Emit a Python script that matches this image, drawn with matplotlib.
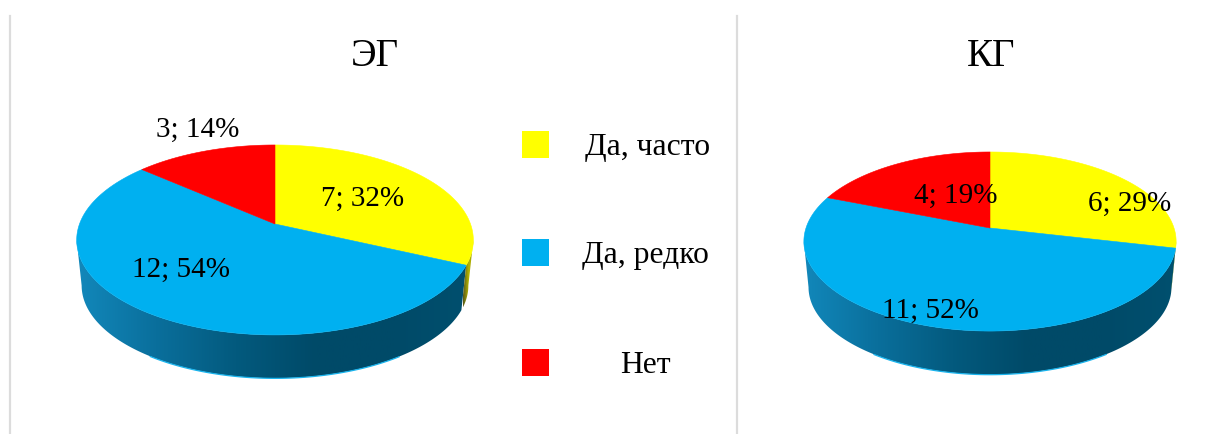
import matplotlib
matplotlib.use('Agg')
import matplotlib.pyplot as plt
import numpy as np
from matplotlib.colors import LinearSegmentedColormap
from matplotlib.patches import Polygon, Rectangle

plt.rcParams['font.family'] = ['Liberation Serif', 'DejaVu Sans']

categories = ['Да, часто', 'Да, редко', 'Нет']
colors = ['#ffff00', '#00b0f0', '#ff0000']
eg_values = [7, 12, 3]
eg_percent = [32, 54, 14]
kg_values = [6, 11, 4]
kg_percent = [29, 52, 19]

blue_side = LinearSegmentedColormap.from_list('blue_side', ['#1288bb', '#0a6f9c', '#035a7e', '#004a68', '#004a68', '#00506f'])
yellow_side = LinearSegmentedColormap.from_list('yellow_side', ['#55561a', '#b8b800', '#8a8a00'])


def project(ang, cx, cy, b, a, k, scale=1.0, dy=0.0):
    # ang is clockwise from 12 o'clock, picture y goes down
    u = np.sin(ang)
    v = np.cos(ang)
    w = 1 + k * v
    return cx + scale * b * u / w, cy + dy - scale * a * v / w


def side(ax, a0, a1, cmap, shape, x0, x1, rim=True):
    ang = np.linspace(a0, a1, 150)
    xt, yt = project(ang, *shape)
    xb, yb = project(ang, *shape, scale=0.975, dy=46)
    pts = np.r_[np.c_[xt, yt], np.c_[xb, yb][::-1]]
    poly = Polygon(pts, closed=True, fc='none', ec='none')
    ax.add_patch(poly)
    grad = np.linspace(0, 1, 256).reshape(1, -1)
    im = ax.imshow(grad, cmap=cmap, extent=(x0, x1, 435, 0), aspect='auto', zorder=2)
    im.set_clip_path(poly)
    if rim:
        # thin light rim under the wall, fades out at the sides
        keep = (ang > np.radians(145)) & (ang < np.radians(215))
        ax.plot(xb[keep], yb[keep] + 0.2, color='#18b4ee', lw=0.9, zorder=3, solid_capstyle='round')


def pie3d(ax, values, percent, shape, title, title_xy, label_xy):
    cx, cy, b, a, k = shape
    frac = np.array(values) / sum(values)
    edges = np.r_[0, np.cumsum(frac)] * 2 * np.pi
    sil = np.arccos(-k)
    x0 = cx - b * 1.02
    x1 = cx + b * 1.02
    # side wall, only the front of the disc shows
    side(ax, edges[1], 2 * np.pi - sil, blue_side, shape, x0, x1)
    sx = project(sil, *shape)[0]
    side(ax, sil, edges[1], yellow_side, shape, sx - 10, sx + 2, rim=False)
    for i in range(len(values)):
        ang = np.linspace(edges[i], edges[i + 1], 150)
        xs, ys = project(ang, *shape)
        pts = np.r_[[[cx, cy]], np.c_[xs, ys]]
        ax.add_patch(Polygon(pts, closed=True, fc=colors[i], ec=colors[i], lw=0.4, zorder=4))
        ax.text(label_xy[i][0], label_xy[i][1], f'{values[i]}; {percent[i]}%', fontsize=21,
                ha='center', va='center', color='black', zorder=6)
    ax.text(title_xy[0], title_xy[1], title, fontsize=28, ha='center', va='center', color='black', zorder=6)


fig = plt.figure(figsize=(12.28, 4.35), dpi=100)
ax = fig.add_axes([0, 0, 1, 1])
ax.set_xlim(0, 1228)
ax.set_ylim(435, 0)
ax.axis('off')

# separators
ax.plot([10, 10], [17, 435], color='#dcdcdc', lw=1.6)
ax.plot([737, 737], [17, 435], color='#dcdcdc', lw=1.6)

pie3d(ax, eg_values, eg_percent, (275, 225, 195.5, 92.3, 0.168), 'ЭГ', (375, 56),
      [(363, 199), (181, 270), (198, 130)])
pie3d(ax, kg_values, kg_percent, (990, 229, 184, 87.5, 0.151), 'КГ', (991, 56),
      [(1130, 204), (930, 311), (956, 196)])

# legend
legend_y = [145.5, 253.5, 363.5]
legend_text_x = [648, 645, 645]
for name, col, y, tx in zip(categories, colors, legend_y, legend_text_x):
    ax.add_patch(Rectangle((522, y - 13.5), 27, 27, fc=col, ec='none'))
    ax.text(tx, y + 2, name, fontsize=22.8, ha='center', va='center', color='black')

ax.set_xlim(0, 1228)
ax.set_ylim(435, 0)
fig.savefig('out.png', dpi=100)
